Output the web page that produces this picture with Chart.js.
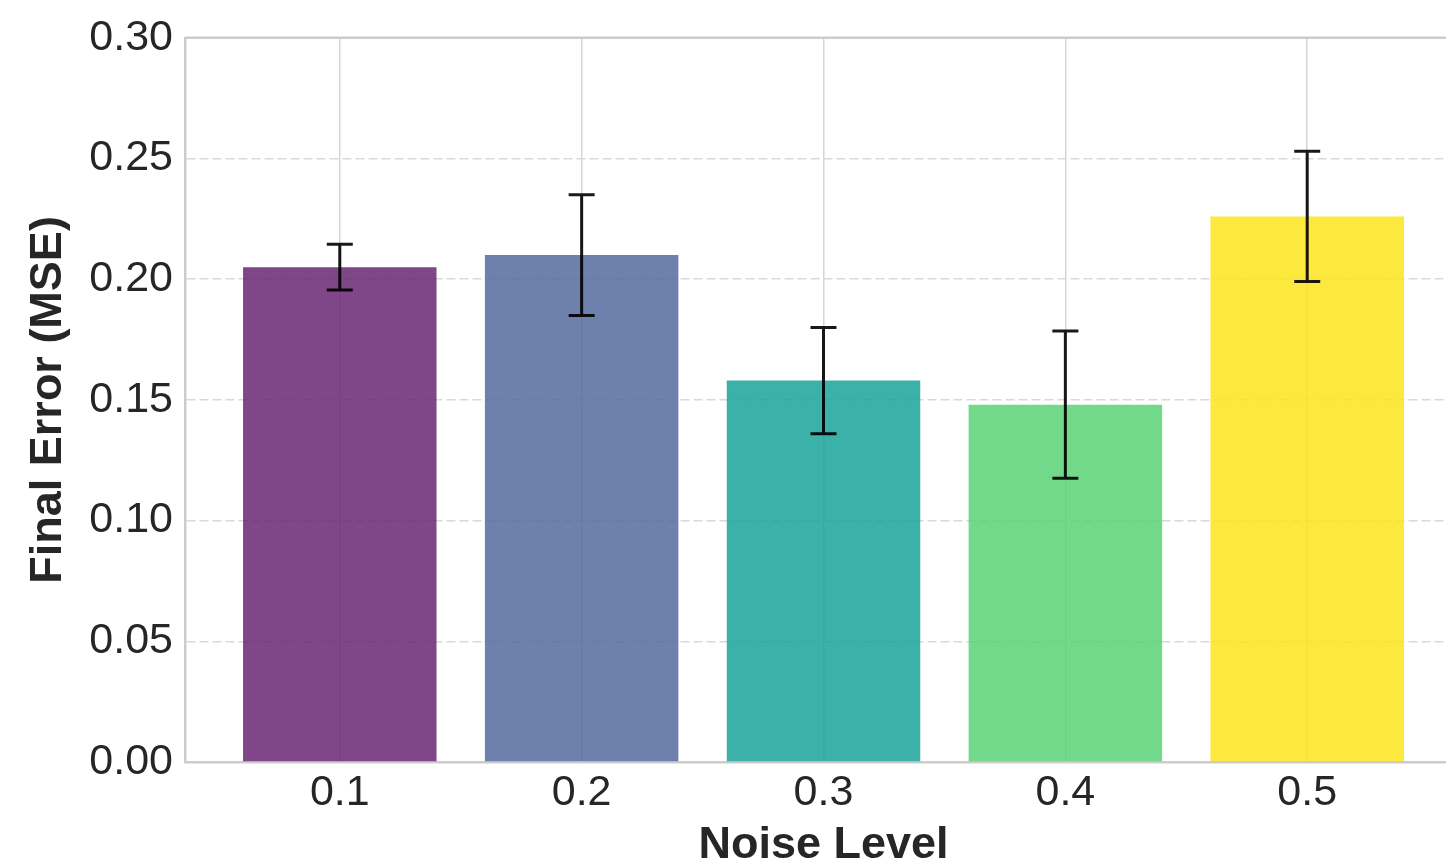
<!DOCTYPE html>
<html>
<head>
<meta charset="utf-8">
<script src="https://cdn.jsdelivr.net/npm/chart.js@4/dist/chart.umd.min.js"></script>
<style>
  html, body { margin: 0; padding: 0; background: #fff; overflow: hidden; }
  #wrap { width: 1462px; height: 868px; }
</style>
</head>
<body>
<div id="wrap"><canvas id="chart"></canvas></div>
<script>
// Noise levels and final error (MSE) with std error bars
const noiseLabels = ['0.1', '0.2', '0.3', '0.4', '0.5'];
const mseValues = [0.205, 0.210, 0.158, 0.148, 0.226];
const mseErrors = [0.0095, 0.025, 0.022, 0.0305, 0.027];
const yTicks = [0.00, 0.05, 0.10, 0.15, 0.20, 0.25, 0.30];

// bar colours (as they appear over white)
const barColors = [
    'rgba(104, 39, 115, 0.85)',
    'rgba(85, 107, 159, 0.85)',
    'rgba(26, 163, 155, 0.85)',
    'rgba(89, 210, 117, 0.85)',
    'rgba(253, 228, 27, 0.85)'
];

const spineColor = '#cccccc';
const tickColor = '#262626';

// error bars + top spine
const errorBarPlugin = {
    id: 'errorBars',
    afterDatasetsDraw(chart) {
        const ctx = chart.ctx;
        const xs = chart.scales.x, ys = chart.scales.y;
        const area = chart.chartArea;
        ctx.save();
        ctx.strokeStyle = spineColor;
        ctx.lineWidth = 2.5;
        ctx.beginPath();
        ctx.moveTo(area.left, area.top);
        ctx.lineTo(area.right, area.top);
        ctx.stroke();

        ctx.strokeStyle = 'rgba(0,0,0,0.9)';
        ctx.lineWidth = 3;
        mseValues.forEach((v, i) => {
            const x = xs.getPixelForValue(i);
            const yTop = ys.getPixelForValue(v + mseErrors[i]);
            const yBot = ys.getPixelForValue(v - mseErrors[i]);
            const cap = 13;
            ctx.beginPath();
            ctx.moveTo(x, yTop); ctx.lineTo(x, yBot);
            ctx.moveTo(x - cap, yTop); ctx.lineTo(x + cap, yTop);
            ctx.moveTo(x - cap, yBot); ctx.lineTo(x + cap, yBot);
            ctx.stroke();
        });
        ctx.restore();
    }
};

const ctx = document.getElementById('chart').getContext('2d');
new Chart(ctx, {
    type: 'bar',
    data: {
        datasets: [{
            data: mseValues.map((v, i) => ({ x: i, y: v })),
            backgroundColor: barColors,
            borderWidth: 0,
            categoryPercentage: 1.0,
            barPercentage: 0.8
        }]
    },
    options: {
        responsive: true,
        maintainAspectRatio: false,
        animation: false,
        layout: { padding: { top: 37, right: 0, left: 0, bottom: 0 } },
        plugins: {
            legend: { display: false },
            tooltip: { enabled: false }
        },
        scales: {
            x: {
                type: 'linear',
                min: -0.64,
                max: 4.64,
                offset: false,
                afterBuildTicks: axis => {
                    axis.ticks = noiseLabels.map((_, i) => ({ value: i }));
                },
                afterFit: axis => { axis.height = 106; },
                ticks: {
                    callback: (value) => noiseLabels[value],
                    color: tickColor,
                    font: { family: 'Liberation Sans, Arial', size: 43 },
                    padding: 5,
                    maxRotation: 0,
                    autoSkip: false
                },
                grid: { color: '#d6d6d6', lineWidth: 1.5, drawTicks: false, offset: false },
                border: { color: spineColor, width: 2.5 },
                title: {
                    display: true,
                    text: 'Noise Level',
                    color: tickColor,
                    font: { family: 'Liberation Sans, Arial', size: 45, weight: 'bold', lineHeight: 1 },
                    padding: { top: 0, bottom: 0 }
                }
            },
            y: {
                min: 0,
                max: 0.30,
                afterBuildTicks: axis => {
                    axis.ticks = yTicks.map(v => ({ value: v }));
                },
                afterFit: axis => { axis.width = 185; },
                ticks: {
                    callback: (value) => value.toFixed(2),
                    color: tickColor,
                    font: { family: 'Liberation Sans, Arial', size: 43 },
                    padding: 12
                },
                grid: { color: '#d9d9d9', lineWidth: 1.5, drawTicks: false },
                border: { color: spineColor, width: 2.5, dash: [9, 4] },
                title: {
                    display: true,
                    text: 'Final Error (MSE)',
                    color: tickColor,
                    font: { family: 'Liberation Sans, Arial', size: 45, weight: 'bold', lineHeight: 1 },
                    padding: { top: 26, bottom: 0 }
                }
            }
        }
    },
    plugins: [errorBarPlugin]
});
</script>
</body>
</html>
